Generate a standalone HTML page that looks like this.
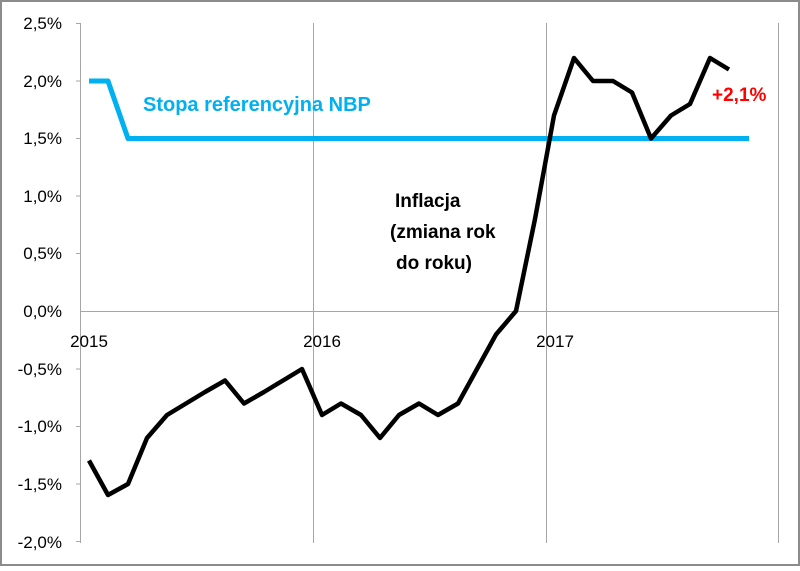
<!DOCTYPE html>
<html><head><style>body{margin:0;background:#fff}</style></head><body>
<svg width="800" height="566" xmlns="http://www.w3.org/2000/svg" font-family="Liberation Sans, sans-serif">
<rect x="1" y="1" width="798" height="564" fill="#fff" stroke="#8c8c8c" stroke-width="2"/>
<g stroke="#a6a6a6" stroke-width="1">
<line x1="80.5" y1="23" x2="80.5" y2="543"/>
<line x1="313.5" y1="23" x2="313.5" y2="543"/>
<line x1="546.5" y1="23" x2="546.5" y2="543"/>
<line x1="778.5" y1="23" x2="778.5" y2="543"/>
<line x1="80" y1="311.5" x2="779" y2="311.5"/>
<line x1="76" y1="23.5" x2="80" y2="23.5"/><line x1="76" y1="81" x2="80" y2="81"/><line x1="76" y1="138.5" x2="80" y2="138.5"/><line x1="76" y1="196" x2="80" y2="196"/><line x1="76" y1="253.5" x2="80" y2="253.5"/><line x1="76" y1="369" x2="80" y2="369"/><line x1="76" y1="426.5" x2="80" y2="426.5"/><line x1="76" y1="484" x2="80" y2="484"/><line x1="76" y1="541.5" x2="80" y2="541.5"/>
</g>
<g font-size="17" fill="#000" text-anchor="end">
<text x="62" y="29">2,5%</text><text x="62" y="87">2,0%</text><text x="62" y="144">1,5%</text><text x="62" y="202">1,0%</text><text x="62" y="259">0,5%</text><text x="62" y="317">0,0%</text><text x="62" y="375">-0,5%</text><text x="62" y="432">-1,0%</text><text x="62" y="490">-1,5%</text><text x="62" y="548">-2,0%</text>
</g>
<g font-size="17" fill="#000" text-anchor="middle">
<text x="89" y="347">2015</text><text x="322" y="347">2016</text><text x="555" y="347">2017</text>
</g>
<polyline fill="none" stroke="#00b0f0" stroke-width="5" stroke-linejoin="round" points="89,81 108,81 128,138.5 749,138.5"/>
<polyline fill="none" stroke="#000" stroke-width="4.5" stroke-linejoin="round" points="89,460.5 108,495 128,484 147,438 167,415 186,403.5 205,392 225,380.5 244,403.5 264,392 283,380.5 302,369 322,415 341,403.5 361,415 380,438 399,415 419,403.5 438,415 458,403.5 477,369 496,334.5 516,311 535,219 554,115.5 574,58 593,81 613,81 632,92.5 651,138.5 671,115.5 690,104 710,58 729,69.5"/>
<text x="143" y="111" font-size="20" font-weight="bold" fill="#00b0f0">Stopa referencyjna NBP</text>
<g font-size="19" font-weight="bold" fill="#000">
<text x="395" y="207">Inflacja</text>
<text x="390" y="238">(zmiana rok</text>
<text x="396" y="269">do roku)</text>
</g>
<text x="712" y="101" font-size="19" font-weight="bold" fill="#ff0000">+2,1%</text>
</svg>
</body></html>
